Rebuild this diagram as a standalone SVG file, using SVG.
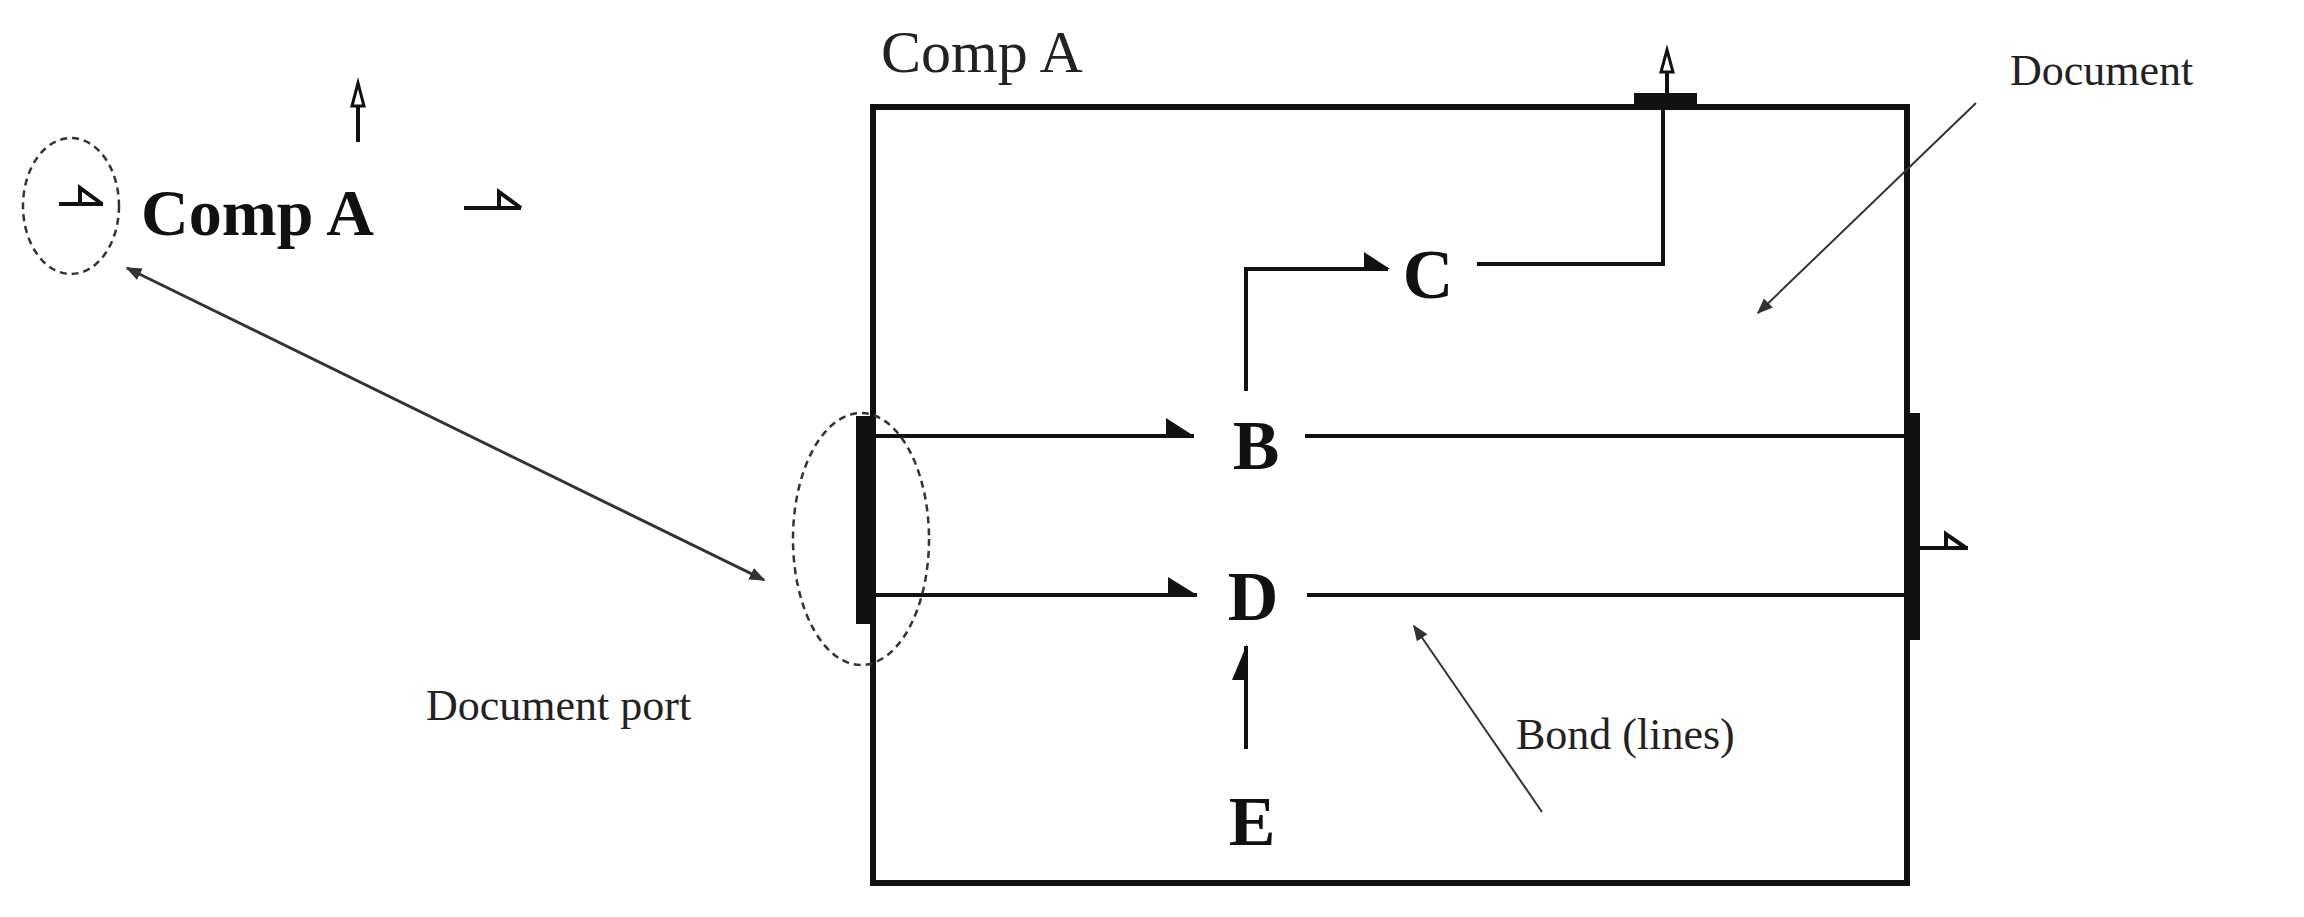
<svg xmlns="http://www.w3.org/2000/svg" width="2304" height="917" viewBox="0 0 2304 917">
<style>
.t{font-family:"Liberation Serif","DejaVu Serif",serif;fill:#222}
.b{font-family:"Liberation Serif","DejaVu Serif",serif;font-weight:bold;fill:#111}
.ln{stroke:#111;stroke-width:4;fill:none}
.thin{stroke:#333;stroke-width:2;fill:none}
.dash{stroke:#333;stroke-width:2.5;fill:none;stroke-dasharray:7 5}
.fl{fill:#111}
.open{fill:#fff;stroke:#111;stroke-width:3}
</style>
<defs>
<marker id="ah" viewBox="0 0 10 10" refX="9" refY="5" markerWidth="10" markerHeight="10" orient="auto-start-reverse" markerUnits="userSpaceOnUse"><path d="M0,1 L10,5 L0,9 z" fill="#333"/></marker>
<marker id="ah2" viewBox="0 0 10 10" refX="9" refY="5" markerWidth="16" markerHeight="16" orient="auto-start-reverse" markerUnits="userSpaceOnUse"><path d="M0,1 L10,5 L0,9 z" fill="#333"/></marker>
</defs>
<rect width="2304" height="917" fill="#fff"/>
<g id="small-comp">
<text class="b" x="141" y="235" font-size="66">Comp A</text>
<ellipse class="dash" cx="71" cy="206" rx="48" ry="68"/>
<path class="ln" d="M59,204 H103 M80,204 V188 L102,204"/>
<path class="ln" d="M464,208 H521 M499,208 V192 L521,208"/>
<line class="ln" x1="358" y1="142" x2="358" y2="95"/>
<path class="open" d="M358,83 L352,106 L364,106 z"/>
</g>
<g id="comp-a">
<text class="t" x="881" y="72" font-size="60">Comp A</text>
<rect x="873" y="107" width="1034" height="776" fill="none" stroke="#111" stroke-width="6"/>
</g>
<g id="ports">
<rect class="fl" x="1634" y="93" width="63" height="12"/>
<rect class="fl" x="856" y="416" width="16" height="208"/>
<rect class="fl" x="1906" y="413" width="14" height="227"/>
<path class="ln" d="M1920,548 H1968 M1946,548 V534 L1966,548"/>
<path class="open" d="M1667,50 L1661,72 L1673,72 z"/>
<line class="ln" x1="1667" y1="72" x2="1667" y2="95"/>
</g>
<g id="nodes">
<text class="b" x="1428" y="298" font-size="70" text-anchor="middle">C</text>
<text class="b" x="1256" y="469" font-size="70" text-anchor="middle">B</text>
<text class="b" x="1253" y="620" font-size="70" text-anchor="middle">D</text>
<text class="b" x="1252" y="845" font-size="70" text-anchor="middle">E</text>
</g>
<g id="connectors">
<path class="ln" d="M1477,264 H1663 V100"/>
<path class="ln" d="M1246,391 V269 H1388"/>
<path class="fl" d="M1390,269 L1364,269 L1364,252 z"/>
<path class="ln" d="M873,436 H1194"/>
<path class="fl" d="M1194,436 L1166,436 L1166,418 z"/>
<path class="ln" d="M1305,436 H1907"/>
<path class="ln" d="M873,595 H1197"/>
<path class="fl" d="M1197,595 L1168,595 L1168,577 z"/>
<path class="ln" d="M1307,595 H1907"/>
<path class="ln" d="M1246,749 V646"/>
<path class="fl" d="M1247,644 L1247,680 L1232,680 z"/>
</g>
<g id="annotations">
<ellipse class="dash" cx="861" cy="539" rx="68" ry="126"/>
<text class="t" x="426" y="720" font-size="44">Document port</text>
<text class="t" x="1516" y="749" font-size="44">Bond (lines)</text>
<text class="t" x="2010" y="85" font-size="44">Document</text>
<line class="thin" x1="1542" y1="812" x2="1414" y2="626" marker-end="url(#ah2)"/>
<line class="thin" x1="1976" y1="103" x2="1758" y2="313" marker-end="url(#ah2)"/>
<line stroke="#333" stroke-width="3" x1="127" y1="268" x2="764" y2="580" marker-start="url(#ah2)" marker-end="url(#ah2)"/>
</g>
</svg>
